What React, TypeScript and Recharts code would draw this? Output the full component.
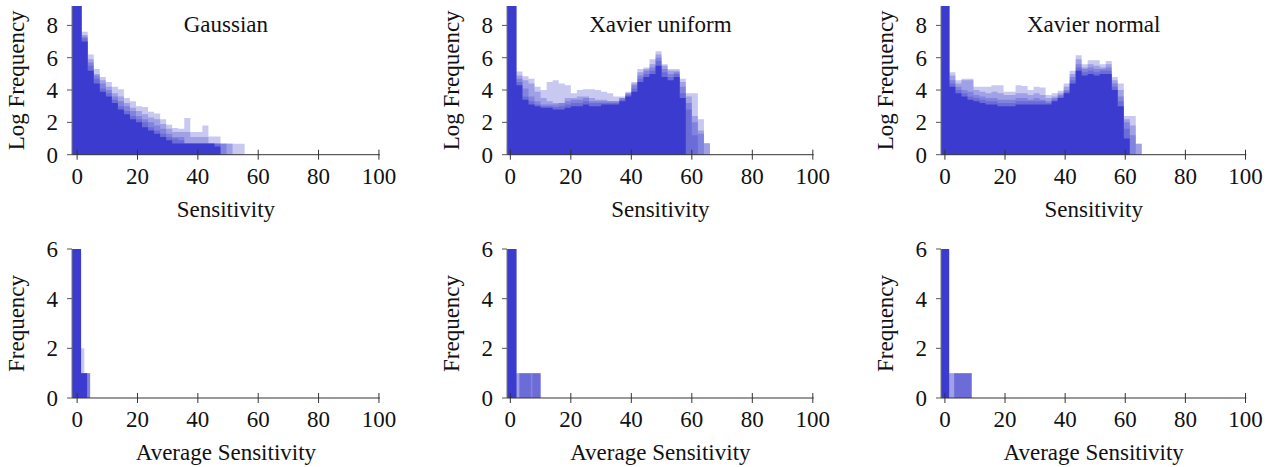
import React from 'react';
import { ComposedChart, Area, XAxis, YAxis } from 'recharts';

const BLUE = '#3333cc';
const FONT = '"Liberation Serif", "Times New Roman", Times, serif';

const X_TICKS = [0, 20, 40, 60, 80, 100];
const LOG_TICKS = [0, 2, 4, 6, 8];
const FREQ_TICKS = [0, 2, 4, 6];

const TITLES = ['Gaussian', 'Xavier uniform', 'Xavier normal'];
const TOP_X_LABEL = 'Sensitivity';
const BOTTOM_X_LABEL = 'Average Sensitivity';
const TOP_Y_LABEL = 'Log Frequency';
const BOTTOM_Y_LABEL = 'Frequency';

// ---------- Top row: log-frequency histograms (bin left edges + runs) ----------
const gaussEdges = [-1.7, 1.5, 3.5, 5.5, 7.5, 9.5, 11.5, 13.5, 15.5, 17.5, 19.5, 21.5, 23.5, 25.5, 27.5, 29.5, 31.5, 33.5, 35.5, 37.5, 39.5, 41.5, 43.5, 45.5, 47.5, 49.5, 51.5, 53.5, 55.5];
const gaussRun1 = [9.2, 7.6, 6.2, 5.3, 4.8, 4.5, 4.2, 4.05, 3.5, 3.3, 3.0, 2.95, 2.65, 2.55, 2.2, 1.85, 1.65, 1.6, 2.27, 1.4, 1.4, 1.8, 1.12, 1.12, 0.68, 0.68, 0.68, 0.68, 0];
const gaussRun2 = [9.2, 7.4, 5.9, 5.0, 4.6, 4.2, 3.8, 3.6, 3.2, 2.9, 2.7, 2.5, 2.3, 2.2, 1.9, 1.6, 1.4, 1.4, 1.4, 1.1, 1.1, 1.1, 0.7, 0.7, 0.7, 0.7, 0, 0, 0];
const gaussRun3 = [9.2, 7.3, 5.7, 4.9, 4.4, 4.0, 3.6, 3.3, 3.0, 2.7, 2.4, 2.2, 2.0, 1.8, 1.6, 1.3, 1.1, 1.1, 0.7, 0.7, 0.7, 0.7, 0.7, 0.7, 0, 0, 0, 0, 0];
const gaussRun4 = [9.2, 7.2, 5.5, 4.7, 4.1, 3.8, 3.4, 3.0, 2.7, 2.4, 2.2, 2.0, 1.7, 1.5, 1.3, 1.1, 1.0, 0.9, 0.7, 0.7, 0.7, 0.7, 0.7, 0.7, 0.7, 0, 0, 0, 0];
const gaussCore = [9.2, 7.0, 5.2, 4.4, 3.9, 3.6, 3.2, 2.8, 2.5, 2.2, 2.0, 1.7, 1.5, 1.3, 1.1, 0.9, 0.7, 0.7, 0.7, 0.7, 0.7, 0.7, 0.7, 0.5, 0, 0, 0, 0, 0];

const xuEdges = [-1.1, 2, 4, 6, 8, 10, 12, 14, 16, 18, 20, 22, 24, 26, 28, 30, 32, 34, 36, 38, 40, 42, 44, 46, 48, 50, 52, 54, 56, 58, 60, 62, 64, 66];
const xuRun1 = [9.2, 5.15, 4.85, 4.7, 4.2, 4.0, 4.5, 4.6, 4.4, 4.3, 3.8, 4.0, 4.05, 4.05, 4.0, 3.9, 3.8, 3.6, 3.6, 3.8, 4.5, 5.3, 5.4, 5.9, 6.4, 5.6, 5.3, 5.3, 4.7, 3.8, 3.8, 2.2, 0.72, 0];
const xuRun2 = [9.2, 4.9, 4.6, 4.4, 3.9, 3.5, 3.3, 3.2, 3.2, 3.5, 3.5, 3.6, 3.6, 3.5, 3.4, 3.4, 3.3, 3.3, 3.5, 3.9, 4.4, 5.1, 5.3, 5.6, 6.2, 5.5, 5.2, 5.2, 4.5, 3.6, 2.4, 1.5, 0.7, 0];
const xuRun3 = [9.2, 4.7, 4.1, 3.6, 3.3, 3.1, 3.1, 3.1, 3.2, 3.3, 3.4, 3.4, 3.5, 3.3, 3.3, 3.3, 3.3, 3.3, 3.5, 3.8, 4.3, 4.9, 5.2, 5.4, 6.0, 5.3, 5.0, 5.1, 4.2, 3.2, 2.0, 1.3, 0, 0];
const xuRun4 = [9.2, 4.5, 3.6, 3.3, 3.1, 3.0, 3.0, 2.95, 3.0, 3.1, 3.2, 3.2, 3.3, 3.2, 3.2, 3.2, 3.2, 3.2, 3.4, 3.7, 4.1, 4.7, 5.0, 5.2, 5.8, 5.1, 4.8, 5.0, 3.8, 2.8, 1.2, 0, 0, 0];
const xuCore = [9.2, 4.3, 3.4, 3.1, 3.0, 2.9, 2.9, 2.8, 2.8, 2.9, 3.0, 3.0, 3.1, 3.0, 3.0, 3.1, 3.1, 3.1, 3.3, 3.6, 3.9, 4.5, 4.8, 5.0, 5.5, 4.8, 4.6, 4.8, 3.5, 0, 0, 0, 0, 0];

const xnEdges = [-1.3, 1.5, 3.5, 5.5, 7.5, 9.5, 11.5, 13.5, 15.5, 17.5, 19.5, 21.5, 23.5, 25.5, 27.5, 29.5, 31.5, 33.5, 35.5, 37.5, 39.5, 41.5, 43.5, 45.5, 47.5, 49.5, 51.5, 53.5, 55.5, 57.5, 59.5, 61.5, 63.5, 65.5];
const xnRun1 = [9.2, 5.1, 4.6, 4.7, 4.7, 4.2, 4.2, 4.2, 4.3, 4.3, 3.9, 3.9, 4.3, 4.25, 4.0, 4.2, 4.15, 3.7, 3.8, 3.95, 4.4, 5.2, 6.15, 5.6, 5.85, 5.85, 5.6, 5.8, 4.8, 4.4, 2.4, 2.4, 0.68, 0];
const xnRun2 = [9.2, 4.9, 4.4, 4.6, 4.6, 4.0, 3.9, 3.8, 3.9, 3.8, 3.7, 3.7, 3.8, 3.8, 3.7, 3.8, 3.7, 3.5, 3.6, 3.8, 4.2, 5.0, 5.9, 5.4, 5.6, 5.5, 5.4, 5.6, 4.6, 4.0, 2.2, 1.8, 0.68, 0];
const xnRun3 = [9.2, 4.6, 4.2, 4.0, 3.9, 3.7, 3.6, 3.5, 3.5, 3.4, 3.4, 3.4, 3.5, 3.5, 3.4, 3.5, 3.4, 3.3, 3.5, 3.7, 4.0, 4.8, 5.6, 5.3, 5.4, 5.3, 5.3, 5.4, 4.4, 3.6, 2.0, 1.2, 0, 0];
const xnRun4 = [9.2, 4.4, 4.0, 3.8, 3.6, 3.5, 3.4, 3.3, 3.3, 3.2, 3.2, 3.2, 3.3, 3.3, 3.3, 3.3, 3.3, 3.2, 3.4, 3.6, 3.9, 4.6, 5.4, 5.1, 5.2, 5.1, 5.2, 5.2, 4.2, 3.3, 1.6, 0, 0, 0];
const xnCore = [9.2, 4.2, 3.8, 3.6, 3.4, 3.3, 3.2, 3.1, 3.1, 3.0, 3.0, 3.0, 3.1, 3.1, 3.1, 3.1, 3.1, 3.1, 3.3, 3.5, 3.8, 4.4, 5.2, 4.9, 5.0, 4.9, 5.0, 5.0, 4.0, 3.0, 1.0, 0, 0, 0];

// ---------- Bottom row: frequency histograms of average sensitivity ----------
const gaussAvgEdges = [-1.7, 1.3, 2.4, 3.3, 4.3];
const gaussAvgRun1 = [6, 2, 1, 1, 0];
const gaussAvgRun2 = [6, 1, 1, 1, 0];
const gaussAvgRun3 = [6, 1, 1, 1, 0];
const gaussAvgRun4 = [6, 1, 1, 0, 0];
const gaussAvgCore = [6, 1, 1, 0, 0];

const xuAvgEdges = [-1.1, 2, 3, 6.8, 7.3, 10];
const xuAvgRun1 = [6, 1, 1, 1, 1, 0];
const xuAvgRun2 = [6, 1, 1, 1, 1, 0];
const xuAvgRun3 = [6, 0, 1, 0, 1, 0];
const xuAvgRun4 = [6, 0, 1, 1, 1, 0];
const xuAvgCore = [6, 0, 0, 0, 0, 0];

const xnAvgEdges = [-1.3, 1.4, 3.1, 8.9];
const xnAvgRun1 = [6, 1, 1, 0];
const xnAvgRun2 = [6, 1, 1, 0];
const xnAvgRun3 = [6, 0, 1, 0];
const xnAvgRun4 = [6, 0, 1, 0];
const xnAvgCore = [6, 0, 0, 0];

const SERIES = ['run1', 'run2', 'run3', 'run4', 'core'];
const OPACITY = [0.27, 0.27, 0.27, 0.27, 0.85];

type Row = Record<string, number>;
function buildRows(edges: number[], runs: number[][]): Row[] {
  return edges.map((x, i) => {
    const row: Row = { x };
    runs.forEach((r, j) => {
      row[SERIES[j]] = r[i];
    });
    return row;
  });
}

const XTick = (props: any) => {
  const { x, y, payload } = props;
  return (
    <g>
      <line x1={x} x2={x} y1={y - 5} y2={y + 5} stroke="#333" strokeWidth={1} />
      <text x={x} y={y + 29.5} textAnchor="middle" fontFamily={FONT} fontSize={23} fill="#111">
        {payload.value}
      </text>
    </g>
  );
};

const YTick = (props: any) => {
  const { x, y, payload } = props;
  return (
    <g>
      <line x1={x - 5} x2={x} y1={y} y2={y} stroke="#555" strokeWidth={1} />
      <text x={x - 14} y={y} dy="0.35em" textAnchor="end" fontFamily={FONT} fontSize={23} fill="#111">
        {payload.value}
      </text>
    </g>
  );
};

const ML = 80;
const MR = 20;
const MT = 20;
const MB = 72;
const XMAX = 100.3;

type PanelProps = {
  zeroX: number;
  scale: number;
  xmin: number;
  plotTop: number;
  plotH: number;
  ymax: number;
  yTicks: number[];
  rows: Row[];
  title?: string;
  xLabel: string;
  yLabel: string;
};

function Panel({ zeroX, scale, xmin, plotTop, plotH, ymax, yTicks, rows, title, xLabel, yLabel }: PanelProps) {
  const plotLeft = zeroX + xmin * scale;
  const plotW = (XMAX - xmin) * scale;
  const W = ML + plotW + MR;
  const H = MT + plotH + MB;
  const cx = ML + plotW / 2;
  return (
    <div style={{ position: 'absolute', left: plotLeft - ML, top: plotTop - MT, width: W, height: H }}>
      <ComposedChart width={W} height={H} data={rows} margin={{ top: MT, right: MR, bottom: 0, left: 0 }}>
        <XAxis
          type="number"
          dataKey="x"
          domain={[xmin, XMAX]}
          allowDataOverflow
          ticks={X_TICKS}
          interval={0}
          height={MB}
          tickSize={0}
          tickMargin={0}
          tickLine={false}
          tick={<XTick />}
          axisLine={{ stroke: '#333', strokeWidth: 1 }}
        />
        <YAxis
          type="number"
          domain={[0, ymax]}
          allowDataOverflow
          ticks={yTicks}
          interval={0}
          width={ML}
          tickSize={0}
          tickMargin={0}
          tickLine={false}
          tick={<YTick />}
          axisLine={{ stroke: '#777', strokeWidth: 1 }}
        />
        {SERIES.map((k, i) => (
          <Area
            key={k}
            type="stepAfter"
            dataKey={k}
            stroke="none"
            fill={BLUE}
            fillOpacity={OPACITY[i]}
            isAnimationActive={false}
            dot={false}
            activeDot={false}
          />
        ))}
      </ComposedChart>
      <svg
        width={W}
        height={H}
        style={{ position: 'absolute', left: 0, top: 0, pointerEvents: 'none', overflow: 'visible' }}
      >
        {title ? (
          <text x={cx} y={MT + 26.2} textAnchor="middle" fontFamily={FONT} fontSize={23} fill="#111">
            {title}
          </text>
        ) : null}
        <text x={cx} y={MT + plotH + 62} textAnchor="middle" fontFamily={FONT} fontSize={23} fill="#111">
          {xLabel}
        </text>
        <text
          transform={`translate(${ML - 48}, ${MT + plotH / 2}) rotate(-90)`}
          textAnchor="middle"
          fontFamily={FONT}
          fontSize={23}
          fill="#111"
        >
          {yLabel}
        </text>
      </svg>
    </div>
  );
}

const COLS = [
  { zeroX: 77.5, scale: 3.018 },
  { zeroX: 510, scale: 3.025 },
  { zeroX: 945, scale: 3.006 },
];

const TOP_PLOT_TOP = 6.3;
const TOP_PLOT_H = 148.7;
const BOT_PLOT_TOP = 249.3;
const BOT_PLOT_H = 149;

export default function App() {
  const topRows = [
    buildRows(gaussEdges, [gaussRun1, gaussRun2, gaussRun3, gaussRun4, gaussCore]),
    buildRows(xuEdges, [xuRun1, xuRun2, xuRun3, xuRun4, xuCore]),
    buildRows(xnEdges, [xnRun1, xnRun2, xnRun3, xnRun4, xnCore]),
  ];
  const botRows = [
    buildRows(gaussAvgEdges, [gaussAvgRun1, gaussAvgRun2, gaussAvgRun3, gaussAvgRun4, gaussAvgCore]),
    buildRows(xuAvgEdges, [xuAvgRun1, xuAvgRun2, xuAvgRun3, xuAvgRun4, xuAvgCore]),
    buildRows(xnAvgEdges, [xnAvgRun1, xnAvgRun2, xnAvgRun3, xnAvgRun4, xnAvgCore]),
  ];
  const xmins = [gaussEdges[0], xuEdges[0], xnEdges[0]];
  return (
    <div style={{ position: 'relative', width: 1271, height: 467, overflow: 'hidden', background: '#fff' }}>
      <style>{'html,body{margin:0;padding:0;overflow:hidden;}'}</style>
      {COLS.map((c, i) => (
        <Panel
          key={`top-${i}`}
          zeroX={c.zeroX}
          scale={c.scale}
          xmin={xmins[i]}
          plotTop={TOP_PLOT_TOP}
          plotH={TOP_PLOT_H}
          ymax={9.2}
          yTicks={LOG_TICKS}
          rows={topRows[i]}
          title={TITLES[i]}
          xLabel={TOP_X_LABEL}
          yLabel={TOP_Y_LABEL}
        />
      ))}
      {COLS.map((c, i) => (
        <Panel
          key={`bot-${i}`}
          zeroX={c.zeroX}
          scale={c.scale}
          xmin={xmins[i]}
          plotTop={BOT_PLOT_TOP}
          plotH={BOT_PLOT_H}
          ymax={6}
          yTicks={FREQ_TICKS}
          rows={botRows[i]}
          xLabel={BOTTOM_X_LABEL}
          yLabel={BOTTOM_Y_LABEL}
        />
      ))}
    </div>
  );
}
